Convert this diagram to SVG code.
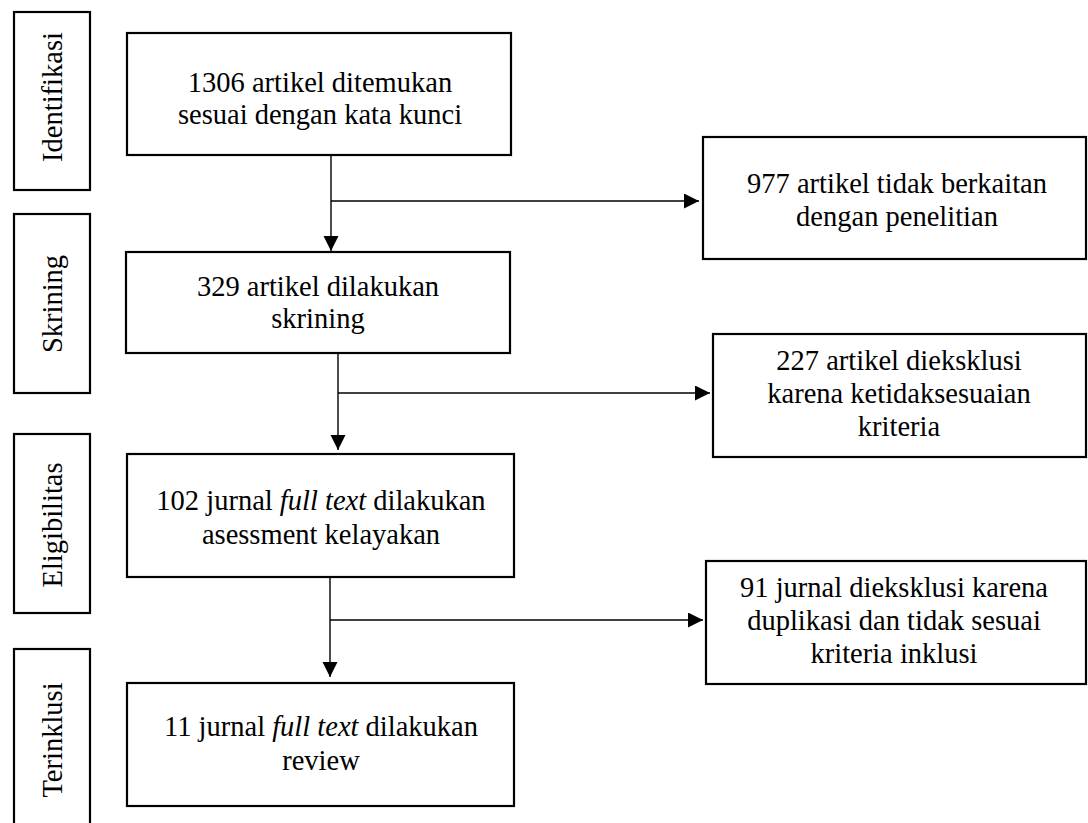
<svg xmlns="http://www.w3.org/2000/svg" width="1088" height="823" viewBox="0 0 1088 823" font-family="'Liberation Serif', 'DejaVu Serif', serif">
<style>
rect{fill:#fff;stroke:#000;stroke-width:2.2}
text{font-family:'Liberation Serif','DejaVu Serif',serif;font-size:28.5px;fill:#000;text-anchor:middle}
.c{fill:none;stroke:#000;stroke-width:1.4}
</style>
<defs>
<marker id="ah" markerUnits="userSpaceOnUse" markerWidth="16" markerHeight="16" refX="15" refY="7.5" orient="auto">
<path d="M0,0 L15,7.5 L0,15 Z" fill="#000"/>
</marker>
</defs>
<rect x="0" y="0" width="1088" height="823" style="fill:#fff;stroke:none"/>
<g id="stage-identifikasi"><rect x="14" y="12" width="76" height="178"/><text transform="rotate(-90 62 97)" x="62" y="97">Identifikasi</text></g>
<g id="stage-skrining"><rect x="14" y="214" width="76" height="179"/><text transform="rotate(-90 62 304)" x="62" y="304">Skrining</text></g>
<g id="stage-eligibilitas"><rect x="14" y="434" width="76" height="179"/><text transform="rotate(-90 62 525)" x="62" y="525">Eligibilitas</text></g>
<g id="stage-terinklusi"><rect x="14" y="649" width="76" height="190"/><text transform="rotate(-90 62 740)" x="62" y="740">Terinklusi</text></g>
<g id="box1"><rect x="127" y="33" width="384" height="122"/><text x="320" y="92">1306 artikel ditemukan</text><text x="320" y="124">sesuai dengan kata kunci</text></g>
<g id="box2"><rect x="126" y="252" width="384" height="101"/><text x="318" y="296">329 artikel dilakukan</text><text x="318" y="328">skrining</text></g>
<g id="box3"><rect x="127" y="454" width="387" height="123"/><text x="321" y="510">102 jurnal <tspan font-style="italic">full text</tspan> dilakukan</text><text x="321" y="544">asessment kelayakan</text></g>
<g id="box4"><rect x="127" y="683" width="387" height="123"/><text x="321" y="736">11 jurnal <tspan font-style="italic">full text</tspan> dilakukan</text><text x="321" y="770">review</text></g>
<g id="boxA"><rect x="703" y="137" width="383" height="122"/><text x="897" y="193">977 artikel tidak berkaitan</text><text x="897" y="226">dengan penelitian</text></g>
<g id="boxB"><rect x="713" y="334" width="373" height="123"/><text x="899" y="370">227 artikel dieksklusi</text><text x="899" y="403">karena ketidaksesuaian</text><text x="899" y="436">kriteria</text></g>
<g id="boxC"><rect x="706" y="561" width="380" height="123"/><text x="894" y="597">91 jurnal dieksklusi karena</text><text x="894" y="630">duplikasi dan tidak sesuai</text><text x="894" y="663">kriteria inklusi</text></g>
<g id="connectors">
<path class="c" d="M331,155 V251" marker-end="url(#ah)"/>
<path class="c" d="M331,201 H699" marker-end="url(#ah)"/>
<path class="c" d="M338,353 V450" marker-end="url(#ah)"/>
<path class="c" d="M338,393 H710" marker-end="url(#ah)"/>
<path class="c" d="M330,577 V677" marker-end="url(#ah)"/>
<path class="c" d="M330,620 H703" marker-end="url(#ah)"/>
</g>
</svg>
